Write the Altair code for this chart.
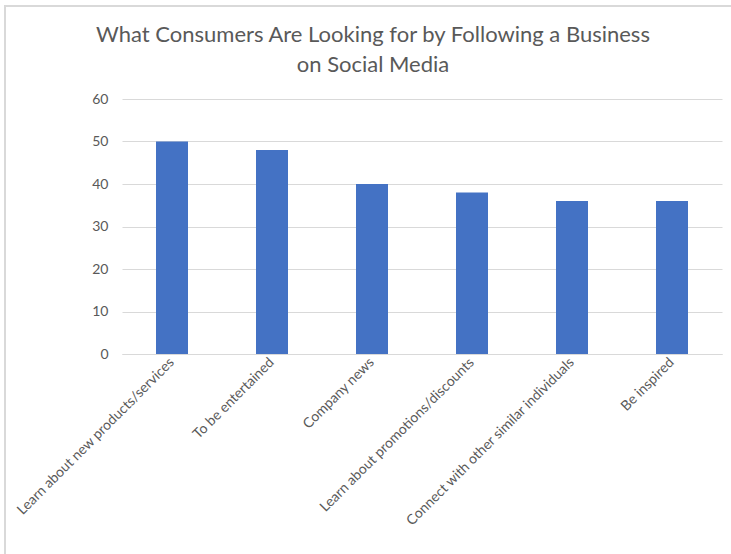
import altair as alt
import pandas as pd

categories = [
    "Learn about new products/services",
    "To be entertained",
    "Company news",
    "Learn about promotions/discounts",
    "Connect with other similar individuals",
    "Be inspired",
]
values = [50, 48, 40, 38, 36, 36]
y_ticks = [0, 10, 20, 30, 40, 50, 60]

df = pd.DataFrame({"category": categories, "value": values})

FONT = "Lato"
GRAY = "#595959"

bars = alt.Chart(df).mark_bar(color="#4472C4").encode(
    x=alt.X(
        "category:N",
        sort=categories,
        title=None,
        scale=alt.Scale(paddingInner=0.68, paddingOuter=0.34),
        axis=alt.Axis(
            labelAngle=-45,
            labelAlign="right",
            labelBaseline="middle",
            labelFontSize=14,
            labelColor=GRAY,
            labelFont=FONT,
            labelPadding=6,
            ticks=False,
            grid=False,
            domainColor="#d9d9d9",
            domainWidth=1,
            labelLimit=400,
        ),
    ),
    y=alt.Y(
        "value:Q",
        title=None,
        scale=alt.Scale(domain=[0, 60], nice=False),
        axis=alt.Axis(
            values=y_ticks,
            labelFontSize=14,
            labelColor=GRAY,
            labelFont=FONT,
            labelPadding=14,
            ticks=False,
            domain=False,
            gridColor="#d9d9d9",
            gridWidth=1.2,
        ),
    ),
)

border = alt.Chart(df).mark_rect(
    fill=None, stroke="#d9d9d9", strokeWidth=1.5
).encode(
    x=alt.value(-117), x2=alt.value(640), y=alt.value(-93), y2=alt.value(470)
)

chart = alt.layer(border, bars).properties(
    width=600,
    height=255,
    title=alt.TitleParams(
        text=["What Consumers Are Looking for by Following a Business", "on Social Media"],
        anchor="middle",
        font=FONT,
        fontSize=22,
        fontWeight="normal",
        color=GRAY,
        lineHeight=30,
        dx=-49,
        offset=-72,
    ),
    autosize=alt.AutoSizeParams(type="none"),
    padding={"left": 122, "top": 99, "right": 9, "bottom": 200},
).configure(background="white", view=alt.ViewConfig(stroke=None))

chart.save("out.html", embed_options={"renderer": "svg", "actions": False})
